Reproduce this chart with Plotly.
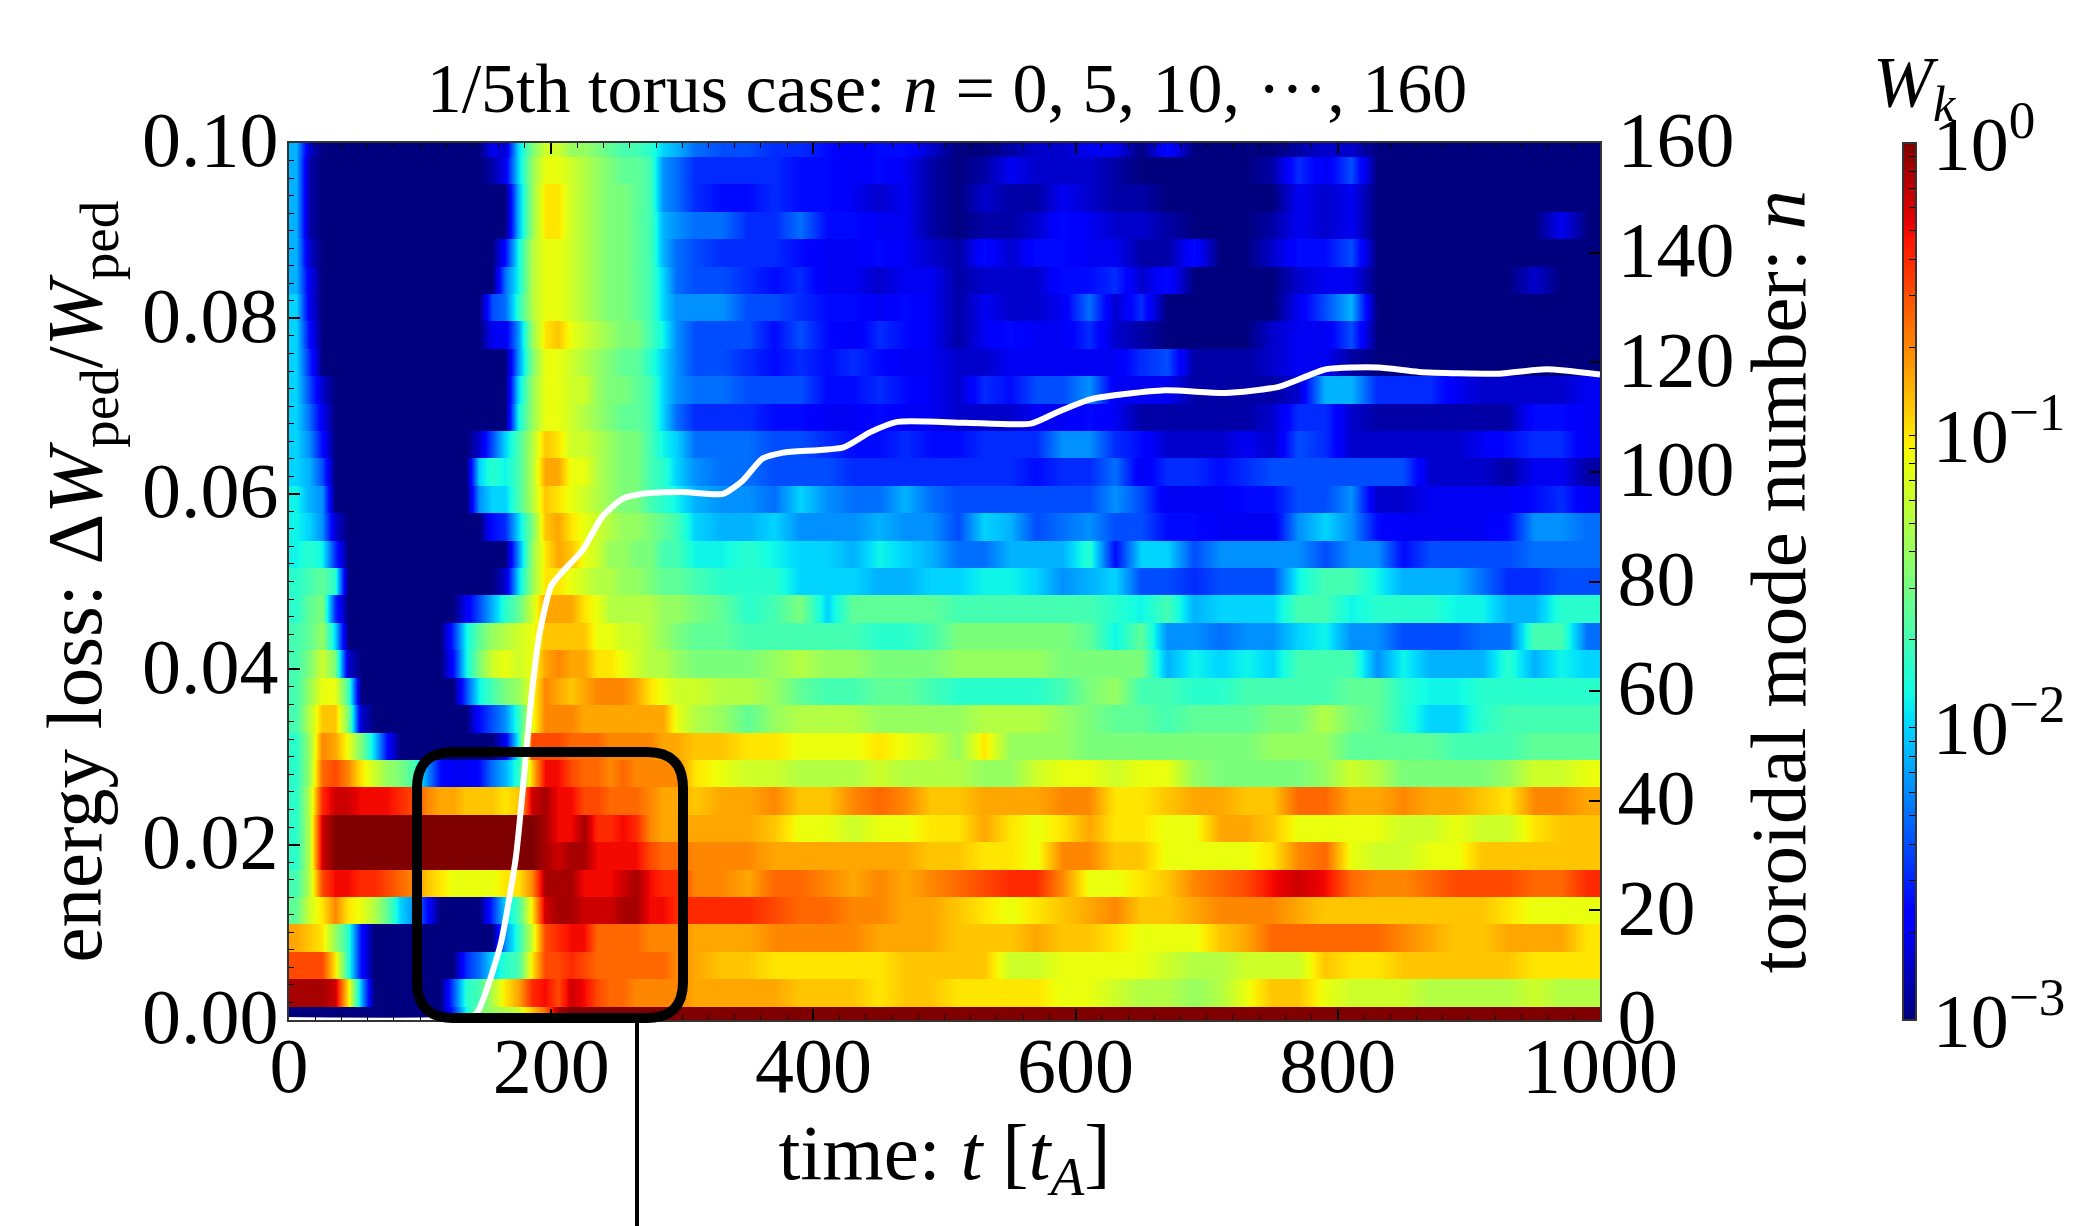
import plotly.graph_objects as go

# Time cell edges [t_A]
t_edges = [0,10,20,30,40,50,60,70,80,90,100,110,120,130,140,150,160,170,180,190,200,210,220,230,240,250,260,270,280,290,
           300,320,340,360,380,400,420,440,460,480,500,520,540,560,580,600,620,640,660,680,700,720,740,760,780,800,820,840,860,880,900,920,940,960,980,1000]
# Toroidal mode numbers
n_modes = [0,5,10,15,20,25,30,35,40,45,50,55,60,65,70,75,80,85,90,95,100,105,110,115,120,125,130,135,140,145,150,155,160]

# 10*log10(W_k), one list per toroidal mode number
n000 = [-30,-30,-30,-30,-30, -30,-30,-30,-30,-30, -30,-30,-25,-19,-15, -14,-13,-12,-9,-6, -1,0,0,0,0, 0,0,0,0,0,
        0,0,0,0,0, 0,0,0,0,0, 0,0,0,0,0, 0,0,0,0,0, 0,0,0,0,0, 0,0,0,0,0, 0,0,0,0,0]
n005 = [-1,-1,-1,-2,-10, -21,-30,-30,-30,-30, -30,-30,-24,-18,-17, -13,-10,-8,-4,-3, -5,-2,-3,-5,-6, -6,-7,-7,-7,-7,
        -8,-8,-8,-8,-9, -9,-9,-10,-9,-9, -10,-10,-10,-10,-11, -11,-12,-13,-13,-14, -13,-11,-9,-9,-11, -12,-12,-12,-13,-13, -13,-13,-12,-13,-13]
n010 = [-5,-5,-5,-10,-18, -26,-30,-30,-30,-30, -30,-30,-30,-25,-23, -20,-18,-17,-10,-5, -5,-4,-5,-6,-6, -6,-6,-6,-6,-7,
        -8,-9,-9,-10,-10, -10,-10,-10,-9,-9, -9,-9,-12,-12,-11, -11,-11,-11,-12,-13, -13,-12,-12,-12,-9, -10,-10,-9,-9,-9, -9,-9,-10,-10,-10]
n015 = [-8,-9,-10,-14,-18, -26,-30,-30,-30,-30, -30,-30,-30,-30,-30, -30,-22,-18,-12,-5, -4,-3,-3,-6,-6, -6,-6,-7,-7,-7,
        -8,-8,-8,-7,-7, -7,-7,-8,-8,-8, -9,-9,-9,-8,-9, -9,-10,-11,-11,-11, -9,-8,-6,-6,-6, -6,-6,-7,-8,-9, -9,-8,-8,-8,-10]
n020 = [-16,-12,-10,-7,-10, -11,-13,-16,-20,-22, -26,-30,-30,-30,-30, -25,-20,-17,-10,-2, -1,-1,-2,-2,-2, -1,-1,-3,-3,-4,
        -4,-4,-4,-5,-6, -6,-7,-7,-8,-8, -9,-10,-11,-10,-9, -8,-7,-9,-9,-8, -7,-7,-7,-8,-9, -9,-9,-9,-9,-9, -9,-10,-11,-11,-11]
n025 = [-17,-13,-5,-3,-3, -4,-4,-5,-6,-7, -9,-10,-11,-11,-11, -11,-10,-10,-7,-1, -1,-1,-3,-3,-3, -2,-1,-3,-4,-4,
        -7,-7,-8,-6,-6, -7,-8,-7,-8,-7, -6,-5,-4,-4,-7, -11,-11,-10,-9,-7, -6,-5,-3,-2,-3, -6,-7,-7,-6,-5, -5,-5,-6,-6,-4]
n030 = [-18,-13,-2,0,0, 0,0,0,0,0, 0,0,0,0,0, 0,0,0,0,-1, -2,-1,-1,-3,-3, -3,-3,-5,-6,-6,
        -7,-7,-7,-8,-8, -8,-8,-8,-8,-9, -9,-10,-10,-11,-7, -7,-9,-9,-11,-11, -11,-11,-10,-7,-6, -11,-12,-12,-11,-11, -9,-9,-9,-9,-9]
n035 = [-18,-13,-2,0,0, 0,0,0,0,0, 0,0,0,0,0, 0,0,0,0,-1, -3,-3,-1,-4,-4, -3,-4,-7,-8,-8,
        -8,-8,-8,-9,-11, -11,-12,-11,-11,-10, -10,-8,-10,-11,-10, -8,-10,-10,-11,-11, -8,-8,-9,-11,-11, -11,-11,-12,-12,-11, -12,-12,-10,-9,-9]
n040 = [-18,-13,-4,-2,-2, -3,-3,-3,-4,-5, -7,-8,-8,-9,-9, -9,-10,-9,-2,-1, -3,-3,-5,-5,-6, -6,-6,-7,-8,-8,
        -9,-8,-8,-7,-9, -9,-7,-6,-7,-9, -9,-8,-8,-8,-7, -7,-10,-10,-9,-8, -8,-9,-9,-6,-6, -8,-8,-7,-8,-8, -9,-10,-7,-7,-8]
n045 = [-18,-14,-6,-5,-7, -10,-12,-14,-15,-17, -22,-26,-27,-27,-26, -23,-21,-18,-9,-3, -3,-5,-6,-6,-7, -6,-7,-7,-7,-7,
        -10,-11,-12,-12,-13, -13,-13,-12,-13,-13, -13,-14,-14,-12,-11, -11,-12,-11,-11,-14, -15,-15,-15,-15,-14, -12,-13,-15,-15,-15, -15,-14,-12,-12,-11]
n050 = [-18,-14,-7,-8,-11, -15,-20,-26,-30,-30, -30,-30,-30,-30,-30, -30,-27,-19,-5,-5, -5,-6,-6,-6,-7, -7,-7,-7,-8,-8,
        -9,-9,-10,-10,-11, -11,-11,-10,-11,-12, -14,-10,-14,-14,-14, -15,-15,-15,-15,-15, -15,-15,-14,-14,-14, -16,-16,-16,-16,-17, -17,-17,-16,-16,-16]
n055 = [-17,-13,-9,-9,-15, -28,-30,-30,-30,-30, -30,-30,-30,-30,-26, -24,-22,-18,-11,-7, -7,-7,-8,-8,-8, -8,-8,-8,-8,-11,
        -13,-14,-16,-14,-13, -13,-13,-14,-14,-14, -14,-13,-13,-13,-14, -15,-16,-16,-17,-16, -16,-16,-15,-15,-13, -15,-16,-18,-20,-20, -18,-17,-17,-17,-17]
n060 = [-17,-14,-11,-11,-17, -30,-30,-30,-30,-30, -30,-30,-30,-24,-19, -17,-15,-14,-11,-7, -8,-9,-8,-7,-7, -7,-8,-10,-11,-12,
        -12,-13,-13,-14,-16, -17,-17,-16,-16,-17, -18,-18,-18,-18,-17, -15,-14,-17,-17,-18, -18,-17,-17,-17,-17, -16,-16,-18,-19,-19, -18,-18,-18,-18,-18]
n065 = [-17,-15,-12,-15,-28, -30,-30,-30,-30,-30, -30,-30,-26,-19,-15, -12,-11,-12,-11,-8, -7,-8,-8,-10,-10, -11,-12,-13,-13,-14,
        -15,-15,-15,-14,-13, -14,-14,-15,-15,-15, -14,-14,-14,-14,-15, -15,-15,-15,-21,-19, -20,-19,-20,-17,-17, -17,-22,-19,-21,-21, -21,-18,-21,-19,-20]
n070 = [-17,-16,-14,-20,-30, -30,-30,-30,-30,-30, -30,-30,-25,-19,-16, -14,-13,-12,-11,-9, -9,-9,-9,-11,-11, -12,-12,-13,-14,-15,
        -16,-16,-17,-17,-17, -17,-17,-18,-18,-17, -15,-15,-15,-15,-15, -16,-19,-16,-22,-22, -23,-22,-22,-20,-19, -22,-22,-24,-24,-24, -23,-23,-17,-17,-23]
n075 = [-18,-16,-15,-25,-30, -30,-30,-30,-30,-30, -30,-30,-30,-27,-24, -21,-18,-16,-12,-8, -8,-8,-10,-11,-13, -13,-13,-13,-14,-14,
        -15,-16,-18,-17,-15, -20,-16,-16,-16,-16, -17,-17,-17,-17,-17, -17,-18,-19,-17,-21, -20,-20,-20,-17,-17, -19,-18,-18,-18,-19, -19,-21,-21,-18,-18]
n080 = [-18,-17,-16,-18,-30, -30,-30,-30,-30,-30, -30,-30,-30,-30,-30, -30,-28,-20,-14,-10, -10,-11,-12,-13,-13, -14,-14,-15,-16,-16,
        -17,-18,-18,-18,-20, -20,-20,-21,-21,-20, -20,-19,-19,-20,-22, -21,-20,-24,-24,-25, -24,-24,-24,-19,-17, -17,-19,-21,-21,-21, -23,-25,-25,-24,-24]
n085 = [-19,-18,-19,-25,-30, -30,-30,-30,-30,-30, -30,-30,-30,-30,-30, -30,-30,-22,-14,-10, -8,-9,-11,-12,-14, -14,-15,-15,-17,-17,
        -19,-19,-18,-19,-20, -20,-21,-19,-20,-21, -23,-23,-21,-21,-21, -18,-26,-20,-20,-24, -22,-22,-22,-22,-24, -22,-22,-26,-24,-24, -24,-24,-23,-23,-23]
n090 = [-19,-20,-22,-28,-30, -30,-30,-30,-30,-30, -30,-30,-30,-30,-30, -26,-25,-20,-15,-9, -8,-10,-11,-12,-13, -14,-14,-15,-16,-17,
        -20,-21,-21,-20,-22, -22,-22,-21,-22,-22, -24,-20,-21,-24,-23, -22,-24,-24,-26,-26, -27,-27,-27,-22,-20, -22,-26,-27,-27,-27, -27,-26,-22,-22,-23]
n095 = [-19,-21,-22,-30,-30, -30,-30,-30,-30,-30, -30,-30,-30,-30,-22, -20,-20,-17,-13,-9, -10,-11,-12,-13,-14, -15,-15,-17,-18,-19,
        -21,-22,-22,-23,-20, -22,-23,-23,-21,-23, -24,-24,-24,-24,-24, -24,-22,-24,-27,-27, -27,-26,-26,-24,-24, -22,-28,-28,-27,-27, -27,-27,-26,-25,-27]
n100 = [-20,-21,-24,-30,-30, -30,-30,-30,-30,-30, -30,-30,-30,-30,-20, -18,-19,-17,-13,-8, -8,-11,-11,-13,-14, -15,-15,-17,-18,-20,
        -22,-23,-23,-24,-24, -24,-25,-25,-25,-25, -25,-25,-25,-26,-25, -25,-23,-27,-25,-25, -26,-25,-24,-24,-24, -24,-24,-24,-28,-28, -28,-29,-27,-27,-29]
n105 = [-20,-22,-26,-30,-30, -30,-30,-30,-30,-30, -30,-30,-30,-30,-28, -24,-20,-17,-13,-9, -10,-12,-12,-13,-14, -15,-15,-17,-19,-20,
        -23,-23,-23,-24,-24, -25,-26,-26,-25,-26, -26,-25,-25,-25,-22, -22,-25,-26,-28,-28, -28,-27,-28,-24,-25, -28,-28,-28,-28,-28, -27,-26,-25,-25,-27]
n110 = [-20,-23,-27,-30,-30, -30,-30,-30,-30,-30, -30,-30,-30,-30,-30, -30,-30,-19,-14,-11, -11,-12,-13,-14,-15, -16,-16,-17,-20,-23,
        -25,-25,-25,-26,-26, -27,-27,-26,-27,-27, -28,-28,-28,-27,-27, -26,-27,-29,-29,-29, -29,-29,-28,-25,-25, -28,-29,-29,-29,-29, -29,-29,-26,-26,-27]
n115 = [-20,-24,-28,-30,-30, -30,-30,-30,-30,-30, -30,-30,-30,-30,-30, -30,-30,-20,-14,-11, -11,-12,-12,-14,-15, -15,-16,-17,-20,-22,
        -23,-23,-24,-24,-24, -26,-26,-25,-26,-27, -28,-25,-26,-24,-24, -22,-27,-27,-27,-29, -29,-29,-29,-28,-21, -21,-25,-25,-25,-27, -28,-28,-28,-28,-27]
n120 = [-20,-25,-30,-30,-30, -30,-30,-30,-30,-30, -30,-30,-30,-30,-30, -30,-30,-22,-15,-11, -11,-12,-13,-14,-15, -16,-16,-18,-20,-22,
        -24,-24,-25,-26,-25, -26,-25,-26,-27,-27, -28,-28,-27,-27,-27, -27,-27,-25,-24,-29, -29,-29,-28,-27,-27, -29,-30,-30,-30,-30, -30,-30,-30,-30,-30]
n125 = [-20,-26,-30,-30,-30, -30,-30,-30,-30,-30, -30,-30,-30,-30,-30, -27,-27,-22,-14,-10, -9,-11,-12,-13,-14, -15,-15,-17,-19,-22,
        -24,-24,-24,-26,-24, -26,-27,-25,-26,-27, -29,-27,-26,-27,-27, -25,-28,-29,-30,-30, -30,-30,-28,-27,-27, -24,-30,-30,-30,-30, -30,-30,-30,-30,-30]
n130 = [-20,-27,-30,-30,-30, -30,-30,-30,-30,-30, -30,-30,-30,-30,-30, -24,-23,-18,-13,-11, -11,-12,-13,-14,-15, -15,-16,-17,-20,-22,
        -22,-22,-24,-24,-25, -26,-26,-27,-26,-27, -29,-27,-28,-28,-27, -23,-28,-25,-30,-30, -30,-30,-30,-27,-24, -21,-30,-30,-30,-30, -30,-30,-30,-30,-30]
n135 = [-21,-27,-30,-30,-30, -30,-30,-30,-30,-30, -30,-30,-30,-30,-30, -30,-23,-19,-13,-11, -11,-12,-13,-14,-15, -15,-16,-17,-20,-23,
        -24,-24,-25,-26,-25, -27,-27,-28,-27,-27, -29,-28,-28,-28,-26, -26,-25,-28,-26,-30, -30,-30,-30,-28,-27, -27,-30,-30,-30,-30, -30,-30,-28,-30,-30]
n140 = [-21,-28,-30,-30,-30, -30,-30,-30,-30,-30, -30,-30,-30,-30,-30, -30,-26,-19,-13,-11, -11,-12,-13,-14,-15, -15,-16,-17,-21,-23,
        -24,-25,-25,-25,-26, -27,-27,-26,-27,-28, -29,-26,-28,-26,-26, -27,-27,-29,-29,-26, -30,-30,-28,-26,-26, -24,-30,-30,-30,-30, -30,-30,-30,-30,-30]
n145 = [-21,-29,-30,-30,-30, -30,-30,-30,-30,-30, -30,-30,-30,-30,-30, -30,-30,-21,-14,-10, -10,-12,-13,-14,-15, -15,-16,-17,-21,-22,
        -23,-23,-25,-25,-23, -26,-26,-27,-27,-29, -30,-29,-29,-28,-26, -27,-28,-28,-29,-30, -30,-30,-29,-27,-28, -27,-30,-30,-30,-30, -30,-30,-30,-27,-30]
n150 = [-21,-29,-30,-30,-30, -30,-30,-30,-30,-30, -30,-30,-30,-30,-30, -30,-30,-21,-14,-10, -10,-12,-13,-14,-15, -15,-16,-17,-22,-23,
        -25,-26,-26,-25,-26, -26,-27,-28,-27,-29, -30,-28,-29,-29,-27, -28,-29,-29,-30,-30, -30,-30,-30,-27,-28, -27,-30,-30,-30,-30, -30,-30,-30,-30,-30]
n155 = [-21,-29,-30,-30,-30, -30,-30,-30,-30,-30, -30,-30,-30,-30,-30, -29,-27,-20,-14,-11, -11,-12,-13,-14,-15, -16,-16,-17,-22,-23,
        -25,-25,-25,-25,-26, -26,-27,-26,-27,-29, -30,-29,-27,-28,-28, -28,-29,-30,-30,-30, -30,-30,-29,-25,-27, -24,-30,-30,-30,-30, -30,-30,-30,-30,-30]
n160 = [-21,-28,-30,-30,-30, -30,-30,-30,-30,-30, -30,-30,-30,-30,-30, -27,-28,-20,-15,-12, -12,-14,-14,-15,-16, -17,-17,-18,-20,-21,
        -23,-24,-24,-25,-25, -26,-27,-26,-26,-28, -30,-30,-29,-28,-28, -27,-27,-30,-26,-30, -30,-30,-30,-29,-28, -28,-30,-30,-30,-30, -30,-30,-30,-30,-30]

rows = [n000,n005,n010,n015,n020,n025,n030,n035,n040,n045,n050,n055,n060,n065,n070,n075,n080,
        n085,n090,n095,n100,n105,n110,n115,n120,n125,n130,n135,n140,n145,n150,n155,n160]
for r_i, r in enumerate(rows):
    assert len(r) == 65, (r_i, len(r))

# Each mode keeps a flat band in n; the drawing smooths only along t.
t_mid = [(a + b) / 2 for a, b in zip(t_edges[:-1], t_edges[1:])]
band_y, band_z = [], []
for n, r in zip(n_modes, rows):
    for side in (-2.45, 2.45):
        band_y.append(n + side)
        band_z.append([v / 10 for v in r])

# White curve: energy loss vs time
loss_t = [0,110,142,152,162,173,180,185,191,200,208,224,239,254,270,300,331,346,361,377,423,443,464,515,566,586,612,668,714,755,791,831,862,923,959,1000]
loss_w = [0,0,0.0006,0.004,0.009,0.0185,0.029,0.037,0.044,0.0495,0.051,0.0536,0.0574,0.0594,0.06,0.0602,0.06,0.0615,0.064,0.0647,0.0653,0.067,0.0682,0.0681,0.068,0.0693,0.0708,0.0718,0.0715,0.0722,0.0742,0.0744,0.0739,0.0737,0.0742,0.0736]

cb_major = [-3,-2,-1,0]
cb_major_text = ["10<sup>\u22123</sup>","10<sup>\u22122</sup>","10<sup>\u22121</sup>","10<sup>0</sup>"]
cb_minor = [-2.699,-2.523,-2.398,-2.301,-2.222,-2.155,-2.097,-2.046,
            -1.699,-1.523,-1.398,-1.301,-1.222,-1.155,-1.097,-1.046,
            -0.699,-0.523,-0.398,-0.301,-0.222,-0.155,-0.097,-0.046]

JET = [[0,"rgb(0,0,127)"],[0.11,"rgb(0,0,255)"],[0.125,"rgb(0,0,255)"],[0.34,"rgb(0,219,255)"],
       [0.375,"rgb(20,255,226)"],[0.64,"rgb(238,255,8)"],[0.66,"rgb(255,236,0)"],[0.89,"rgb(255,19,0)"],
       [0.91,"rgb(232,0,0)"],[1,"rgb(127,0,0)"]]

FONT = "Liberation Serif"
W, H = 2100, 1226
L, R, T, B = 289, 1600, 143, 1020
def px(x): return (x - L) / (R - L)
def py(y): return (B - y) / (B - T)

fig = go.Figure()
fig.add_trace(go.Heatmap(
    x=t_mid, y=band_y, z=band_z, colorscale=JET, zmin=-3, zmax=0, xaxis="x", yaxis="y", zsmooth="best",
    hoverinfo="skip",
    colorbar=dict(
        x=px(1903), xanchor="left", xpad=0, y=0.5, yanchor="middle", ypad=0, len=1, lenmode="fraction",
        thickness=13, thicknessmode="pixels", outlinecolor="#333", outlinewidth=2,
        tickmode="array", tickvals=cb_major + cb_minor, ticktext=cb_major_text + [""] * len(cb_minor),
        ticks="inside", ticklen=8, tickwidth=1, tickcolor="black",
        tickfont=dict(family=FONT, size=76, color="black"),
    ),
))
fig.add_trace(go.Scatter(x=loss_t, y=loss_w, mode="lines", line=dict(color="white", width=6, shape="spline", smoothing=0.6),
                         xaxis="x", yaxis="y2", showlegend=False, hoverinfo="skip"))

tick_font = dict(family=FONT, size=78, color="black")
label_font = dict(family=FONT, size=79, color="black")
fig.update_layout(
    width=W, height=H, autosize=False,
    margin=dict(l=L, r=W - R, t=T, b=H - B, pad=0, autoexpand=False),
    paper_bgcolor="white", plot_bgcolor="white", showlegend=False,
    title=dict(text="1/5th torus case: <i>n</i> = 0, 5, 10, \u00b7\u00b7\u00b7, 160", x=947 / W, xanchor="center", xref="container",
               y=1 - 87 / H, yanchor="middle", yref="container", font=dict(family=FONT, size=70, color="black")),
    xaxis=dict(range=[0, 1000], dtick=200, tick0=0, ticks="inside", ticklen=11, tickwidth=1.5, tickcolor="black",
               mirror="ticks", showline=True, linecolor="#333", linewidth=2, showgrid=False, zeroline=False,
               tickfont=tick_font, ticklabelstandoff=-24,
               minor=dict(dtick=20, ticks="inside", ticklen=5, tickcolor="black", tickwidth=1, showgrid=False),
               title=dict(text="time: <i>t</i> [<i>t<sub>A</sub></i>]", font=label_font, standoff=0)),
    yaxis=dict(range=[0, 160], dtick=20, tick0=0, side="right", ticks="inside", ticklen=11, tickwidth=1.5, tickcolor="black",
               showline=True, linecolor="#333", linewidth=2, showgrid=False, zeroline=False,
               tickfont=tick_font, ticklabelshift=-4,
               title=dict(text="toroidal mode number: <i>n</i>", font=label_font, standoff=14)),
    yaxis2=dict(range=[0, 0.1], dtick=0.02, tick0=0, tickformat=".2f", overlaying="y", side="left", anchor="x",
                ticks="inside", ticklen=11, tickwidth=1.5, tickcolor="black",
                showline=True, linecolor="#333", linewidth=2, showgrid=False, zeroline=False,
                tickfont=tick_font, ticklabelstandoff=-7, ticklabelshift=-4,
                minor=dict(dtick=0.002, ticks="inside", ticklen=5, tickcolor="black", tickwidth=1, showgrid=False),
                title=dict(text="energy loss: \u0394<i>W</i><sub>ped</sub>/<i>W</i><sub>ped</sub>", font=label_font, standoff=14)),
    annotations=[dict(text="<i>W<sub>k</sub></i>", x=px(1915), y=py(87), xref="paper", yref="paper", showarrow=False,
                      xanchor="center", yanchor="middle", font=dict(family=FONT, size=72, color="black"))],
)

# Rounded call-out box and its leader line
x0, x1, y0, y1, r = px(417), px(683), py(1018), py(752), 36
rx, ry = r / (R - L), r / (B - T)
box = (f"M {x0+rx} {y0} L {x1-rx} {y0} Q {x1} {y0} {x1} {y0+ry} L {x1} {y1-ry} Q {x1} {y1} {x1-rx} {y1} "
       f"L {x0+rx} {y1} Q {x0} {y1} {x0} {y1-ry} L {x0} {y0+ry} Q {x0} {y0} {x0+rx} {y0} Z")
fig.add_shape(type="path", path=box, xref="paper", yref="paper", line=dict(color="black", width=10), layer="above")
fig.add_shape(type="line", x0=px(637), x1=px(637), y0=py(1018), y1=py(1226), xref="paper", yref="paper",
              line=dict(color="black", width=4), layer="above")

fig.write_html("out.html", config={"displayModeBar": False},
               post_script="document.body.style.margin='0';document.body.style.overflow='hidden';")
